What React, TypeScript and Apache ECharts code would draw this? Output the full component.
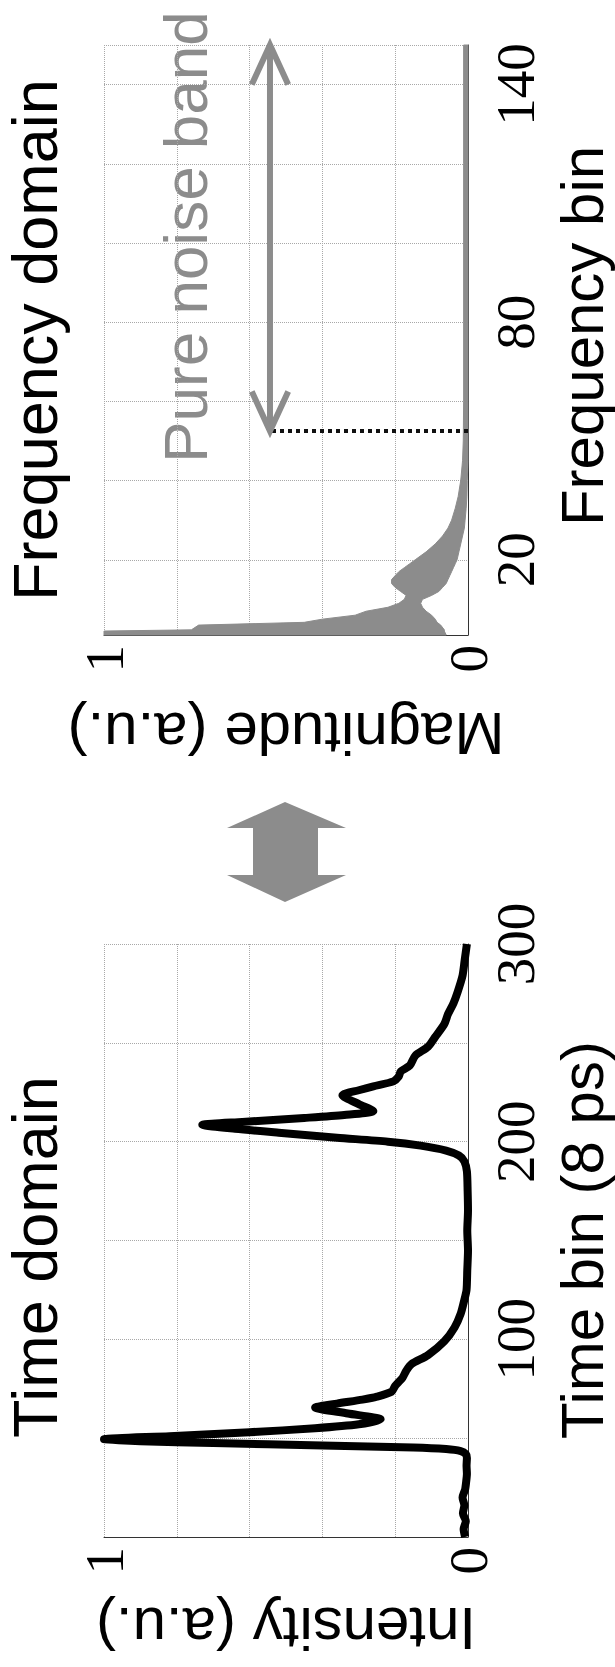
import React, { useEffect, useRef } from 'react';
import * as echarts from 'echarts';

// ---------- Frequency domain (band of magnitudes per frequency bin) ----------
const freqBins = [1, 2, 2.3, 3.5, 4.2, 5, 6, 7, 8, 9, 10, 11, 12, 13, 14, 15, 16, 17, 18, 19, 20, 22, 24, 26, 28, 30, 33, 36, 40, 45, 50, 60, 80, 100, 120, 150];
const freqLower = [0.06, 0.065, 0.065, 0.075, 0.085, 0.09, 0.1, 0.115, 0.125, 0.13, 0.125, 0.1, 0.08, 0.07, 0.06, 0.055, 0.05, 0.045, 0.04, 0.035, 0.03, 0.025, 0.02, 0.015, 0.01, 0.008, 0.005, 0.003, 0.002, 0, 0, 0, 0, 0, 0, 0];
const freqUpper = [1.0, 1.0, 0.76, 0.74, 0.45, 0.4, 0.31, 0.28, 0.22, 0.19, 0.175, 0.17, 0.185, 0.2, 0.21, 0.21, 0.2, 0.19, 0.175, 0.16, 0.145, 0.115, 0.09, 0.07, 0.055, 0.045, 0.035, 0.027, 0.02, 0.015, 0.013, 0.012, 0.012, 0.012, 0.012, 0.012];
const freqTickLabels = [20, 80, 140];
const noiseBandStart = 52.5;
const noiseBandEnd = 150;
const noiseArrowMagnitude = 0.544;

// ---------- Time domain ----------
const timeBins = [0, 4, 8, 12, 16, 20, 24, 28, 32, 36, 40, 42, 43.5, 44.5, 45.3, 46.3, 47.5, 48.5, 49.5, 51, 53, 55, 57, 59.5, 62.5, 65.5, 67.5, 69.5, 71, 73.5, 76.5, 78.5, 80.5, 84, 87.5, 92, 99, 106, 113, 120, 125, 135, 145, 155, 165, 175, 185, 190, 193, 195.5, 198, 200, 202, 204.5, 206.5, 208.5, 210, 212, 213.5, 215.5, 219, 223.5, 226, 228, 230.5, 233, 235.5, 238.5, 243.5, 248, 253, 259.5, 264.5, 270, 276, 284, 292, 300];
const timeIntensity = [0.008, 0.012, 0.006, 0.014, 0.01, 0.015, 0.008, 0.005, 0.003, 0.004, 0.003, 0.006, 0.02, 0.06, 0.15, 0.4, 0.7, 0.9, 1.0, 0.82, 0.6, 0.42, 0.3, 0.24, 0.33, 0.42, 0.36, 0.29, 0.25, 0.21, 0.2, 0.19, 0.18, 0.17, 0.155, 0.11, 0.065, 0.037, 0.02, 0.01, 0.004, 0.002, 0.0, 0.002, 0.0, 0.001, 0.003, 0.01, 0.025, 0.06, 0.13, 0.22, 0.36, 0.52, 0.64, 0.73, 0.62, 0.45, 0.34, 0.26, 0.3, 0.345, 0.3, 0.26, 0.205, 0.19, 0.185, 0.16, 0.145, 0.11, 0.09, 0.065, 0.055, 0.04, 0.028, 0.015, 0.009, 0.003];
const timeTickLabels = [100, 200, 300];
const amplitudeTickLabels = [0, 1];

const SANS = 'Liberation Sans';
const SERIF = 'Liberation Serif';
const GRAY = '#8c8c8c';
const TICK_FONT = 55;

const gridLine = { show: true, lineStyle: { type: 'dotted' as const, color: '#a8a8a8', width: 1 } };
const axisLine = { show: true, onZero: false, lineStyle: { color: '#333', width: 1 } };

function ampAxis(gridIndex: number) {
  return {
    type: 'value', gridIndex, inverse: true, min: 0, max: 1, interval: 0.2, position: 'bottom',
    axisLine, axisTick: { show: false }, splitLine: gridLine,
    axisLabel: {
      rotate: 90, margin: 10, fontFamily: SERIF, fontSize: TICK_FONT, color: '#000',
      formatter: (v: number) => (amplitudeTickLabels.includes(v) ? String(v) : ''),
    },
  };
}

export default function App() {
  const ref = useRef<HTMLDivElement>(null);
  useEffect(() => {
    if (!ref.current) return;
    const chart = echarts.init(ref.current, null, { renderer: 'svg' });
    const text = (t: string, x: number, y: number, rotation: number, size: number, fill = '#000') => ({
      type: 'text', x, y, rotation, silent: true,
      style: {
        text: t, fontSize: size, lineHeight: Math.round(size * 0.9), fontFamily: SANS, fill,
        textAlign: 'center', textVerticalAlign: 'middle',
      },
    });
    const option: any = {
      animation: false,
      backgroundColor: '#fff',
      grid: [
        { left: 104, right: 147, top: 45, bottom: 1032 },
        { left: 104, right: 147, top: 944, bottom: 130 },
      ],
      xAxis: [ampAxis(0), ampAxis(1)],
      yAxis: [
        {
          type: 'value', gridIndex: 0, min: 1, max: 150, splitNumber: 7, position: 'right',
          axisLine, axisTick: { show: false }, splitLine: gridLine,
          axisLabel: {
            rotate: 90, margin: 20, fontFamily: SERIF, fontSize: TICK_FONT, color: '#000',
            formatter: (v: number) => (freqTickLabels.includes(v) ? String(v) : ''),
          },
        },
        {
          type: 'value', gridIndex: 1, min: 0, max: 300, interval: 50, position: 'right',
          axisLine, axisTick: { show: false }, splitLine: gridLine,
          axisLabel: {
            rotate: 90, margin: 20, fontFamily: SERIF, fontSize: TICK_FONT, color: '#000',
            formatter: (v: number) => (timeTickLabels.includes(v) ? String(v) : ''),
          },
        },
      ],
      series: [
        {
          type: 'custom', xAxisIndex: 0, yAxisIndex: 0, silent: true,
          data: freqBins.map((b, i) => [freqLower[i], freqUpper[i], b]),
          encode: { x: [0, 1], y: 2 },
          renderItem: (params: any, api: any) => {
            if (params.dataIndex !== 0) return null;
            const pts: number[][] = [];
            for (let i = 0; i < freqBins.length; i++) pts.push(api.coord([freqUpper[i], freqBins[i]]));
            for (let i = freqBins.length - 1; i >= 0; i--) pts.push(api.coord([freqLower[i], freqBins[i]]));
            return { type: 'polygon', shape: { points: pts }, style: { fill: GRAY, stroke: GRAY, lineWidth: 1 } };
          },
        },
        {
          type: 'line', xAxisIndex: 0, yAxisIndex: 0, showSymbol: false, silent: true, clip: false,
          data: [[0, noiseBandStart], [noiseArrowMagnitude, noiseBandStart]],
          lineStyle: { color: '#111', width: 4, type: 'dotted' },
        },
        {
          type: 'line', xAxisIndex: 0, yAxisIndex: 0, showSymbol: false, silent: true, clip: false,
          data: [[noiseArrowMagnitude, noiseBandStart], [noiseArrowMagnitude, noiseBandEnd]],
          lineStyle: { color: GRAY, width: 6 },
        },
        {
          type: 'line', xAxisIndex: 0, yAxisIndex: 0, showSymbol: false, silent: true, clip: false,
          data: [[noiseArrowMagnitude + 0.05, noiseBandStart + 10], [noiseArrowMagnitude, noiseBandStart], [noiseArrowMagnitude - 0.05, noiseBandStart + 10]],
          lineStyle: { color: GRAY, width: 6, join: 'miter' },
        },
        {
          type: 'line', xAxisIndex: 0, yAxisIndex: 0, showSymbol: false, silent: true, clip: false,
          data: [[noiseArrowMagnitude + 0.05, noiseBandEnd - 10], [noiseArrowMagnitude, noiseBandEnd], [noiseArrowMagnitude - 0.05, noiseBandEnd - 10]],
          lineStyle: { color: GRAY, width: 6, join: 'miter' },
        },
        {
          type: 'line', xAxisIndex: 1, yAxisIndex: 1, showSymbol: false, silent: true, clip: false,
          smooth: 0.25,
          data: timeBins.map((t, i) => [timeIntensity[i], t]),
          lineStyle: { color: '#000', width: 8, join: 'round' },
        },
      ],
      graphic: [
        text('Frequency domain', 35, 340, Math.PI / 2, 63),
        text('Time domain', 35, 1257, Math.PI / 2, 63),
        text('Frequency bin', 582, 336, Math.PI / 2, 60),
        text('Time bin (8 ps)', 582, 1240, Math.PI / 2, 60),
        text('Magnitude (a.u.)', 286, 733, Math.PI, 60),
        text('Intensity (a.u.)', 286, 1628, Math.PI, 60),
        text('Pure noise band', 185, 237, Math.PI / 2, 62, GRAY),
        {
          type: 'polygon', silent: true,
          shape: {
            points: [[285, 802], [346, 828], [318, 828], [318, 875], [346, 875], [285, 902], [227, 875], [253, 875], [253, 828], [227, 828]],
          },
          style: { fill: GRAY },
        },
      ],
    };
    chart.setOption(option);
    return () => chart.dispose();
  }, []);
  return <div ref={ref} style={{ position: 'absolute', left: 0, top: 0, width: 615, height: 1667, background: '#fff' }} />;
}
